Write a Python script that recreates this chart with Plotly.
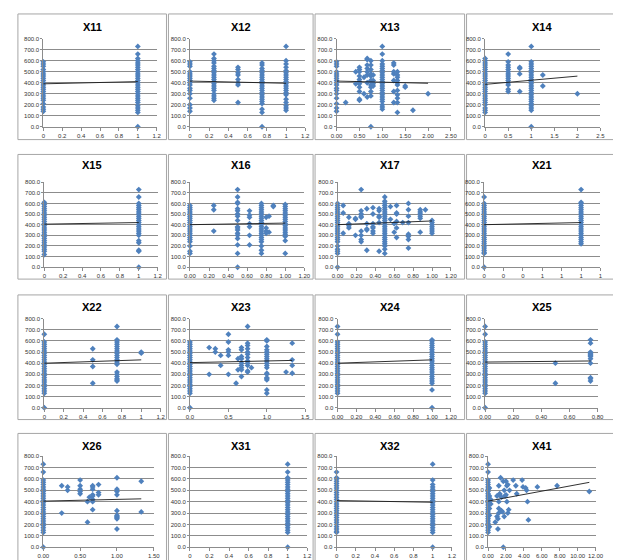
import plotly.graph_objects as go

W, H = 621, 560

# ---------------- data ----------------
Y_TICKS = [0, 100, 200, 300, 400, 500, 600, 700, 800]
Y_TICK_LABELS = ["0.0", "100.0", "200.0", "300.0", "400.0", "500.0", "600.0", "700.0", "800.0"]

TITLES = ["X11", "X12", "X13", "X14", "X15", "X16", "X17", "X21",
          "X22", "X23", "X24", "X25", "X26", "X31", "X32", "X41"]

X11_XS = [0, 1]
X11_YS = [[140, 160, 180, 210, 240, 260, 280, 300, 320, 340, 360, 380, 400, 420, 440, 460, 480, 500, 520, 550, 570, 590],
          [0, 130, 150, 170, 190, 220, 240, 260, 280, 300, 320, 340, 360, 380, 400, 420, 440, 460, 480, 500, 520, 540, 560, 580, 600, 620, 660, 730]]
X11_TREND = [390, 410]

X12_XS = [0, 0.25, 0.5, 0.75, 1]
X12_YS = [[140, 170, 200, 260, 300, 330, 350, 380, 400, 420, 440, 460, 480, 500, 550, 570, 590],
          [240, 260, 280, 300, 330, 350, 370, 390, 410, 430, 450, 470, 490, 510, 530, 550, 580, 600, 620, 660],
          [220, 380, 400, 430, 470, 490, 520, 540],
          [0, 130, 160, 210, 230, 250, 270, 290, 310, 330, 350, 370, 390, 410, 430, 450, 470, 490, 510, 530, 560, 580],
          [150, 170, 190, 220, 250, 290, 310, 330, 350, 370, 390, 410, 430, 450, 470, 490, 510, 540, 570, 600, 730]]
X12_TREND = [415, 395]

X13_XS = [0, 0.2, 0.42, 0.5, 0.6, 0.67, 0.75, 0.8, 1, 1.25, 1.33, 1.5, 1.67, 2]
X13_YS = [[140, 170, 210, 260, 300, 330, 350, 380, 400, 420, 440, 460, 480, 500, 550, 570, 590],
          [220],
          [390, 500],
          [240, 250, 320, 360, 390, 410, 430, 460, 500, 520, 540],
          [300, 450],
          [270, 400, 470, 500, 530, 560, 610, 620],
          [0, 280, 320, 360, 380, 420, 460, 480, 520, 560, 600],
          [370, 390, 420, 470],
          [160, 180, 200, 230, 250, 270, 290, 310, 330, 350, 370, 390, 410, 430, 450, 470, 490, 510, 530, 550, 570, 600, 660, 730],
          [220, 320, 420, 480, 500, 560, 580],
          [130, 220, 260, 290, 330, 380, 400, 420, 450, 470, 500],
          [360, 370],
          [150],
          [300]]
X13_TREND = [415, 395]

X14_XS = [0, 0.5, 0.75, 1, 1.25, 2]
X14_YS = [[130, 150, 170, 200, 220, 240, 260, 280, 300, 320, 340, 360, 380, 400, 420, 440, 460, 480, 500, 520, 540, 560, 580, 600, 620],
          [320, 340, 380, 400, 420, 440, 460, 480, 500, 520, 540, 560, 590, 660],
          [320, 480, 530, 540],
          [0, 150, 170, 190, 210, 230, 250, 270, 290, 310, 330, 350, 370, 390, 410, 430, 450, 470, 490, 510, 530, 550, 570, 590, 730],
          [370, 470],
          [300]]
X14_TREND = [385, 460]

X15_XS = [0, 1]
X15_YS = [[120, 150, 170, 190, 210, 230, 250, 270, 290, 310, 330, 350, 370, 390, 410, 430, 450, 470, 490, 510, 530, 550, 570, 590, 610],
          [0, 150, 160, 230, 250, 300, 320, 340, 360, 380, 400, 420, 440, 460, 480, 500, 520, 540, 560, 580, 600, 660, 730]]
X15_TREND = [405, 420]

X16_XS = [0, 0.25, 0.5, 0.625, 0.75, 0.8, 0.83, 0.875, 1]
X16_YS = [[130, 150, 200, 240, 260, 280, 300, 320, 340, 360, 380, 400, 420, 440, 460, 480, 500, 520, 540, 560, 580],
          [340, 540, 580],
          [0, 130, 210, 270, 300, 320, 350, 370, 380, 440, 480, 500, 530, 550, 600, 610, 660, 730],
          [210, 300, 380, 410, 470, 490, 530],
          [130, 160, 200, 240, 260, 280, 300, 320, 340, 360, 380, 400, 420, 440, 460, 480, 500, 520, 540, 560, 580, 600],
          [320, 340, 370, 470],
          [330, 480],
          [570, 580],
          [130, 250, 290, 310, 330, 350, 370, 390, 410, 430, 450, 470, 490, 510, 530, 550, 570, 590]]
X16_TREND = [400, 415]

X17_XS = [0, 0.06, 0.12, 0.19, 0.25, 0.31, 0.375, 0.44, 0.5, 0.56, 0.6, 0.625, 0.69, 0.75, 0.875, 0.93, 1]
X17_YS = [[0, 130, 150, 170, 200, 240, 260, 280, 300, 320, 340, 360, 380, 400, 420, 440, 460, 480, 500, 520, 540, 560, 580, 600],
          [320, 510, 580],
          [370, 390, 410, 470],
          [300, 450, 460],
          [240, 260, 300, 340, 470, 480, 500, 530, 730],
          [160, 350, 360, 410, 550],
          [320, 340, 370, 380, 410, 500, 560],
          [150, 420, 470, 480, 530, 550],
          [130, 170, 200, 220, 240, 260, 280, 300, 320, 340, 360, 380, 400, 420, 440, 460, 480, 500, 520, 540, 560, 580, 600, 620, 660],
          [450, 570],
          [330, 410],
          [280, 370, 430, 500, 510, 580],
          [420],
          [180, 260, 290, 310, 420, 480, 540, 600],
          [330, 460, 480, 500, 520, 540],
          [540],
          [320, 340, 360, 380, 400, 420, 440]]
X17_TREND = [400, 435]

X21_XS = [0, 1]
X21_YS = [[0, 130, 140, 160, 180, 200, 220, 240, 260, 280, 300, 320, 340, 360, 380, 400, 420, 440, 460, 480, 500, 520, 540, 560, 580, 600, 660],
          [220, 240, 260, 280, 300, 320, 340, 360, 380, 400, 420, 440, 460, 480, 500, 520, 540, 560, 580, 600, 610, 730]]
X21_TREND = [400, 420]

X22_XS = [0, 0.5, 0.75, 1]
X22_YS = [[0, 130, 150, 170, 190, 210, 230, 250, 270, 290, 310, 330, 350, 370, 390, 410, 430, 450, 470, 490, 510, 530, 550, 570, 590, 660],
          [220, 370, 430, 530],
          [240, 250, 260, 280, 300, 320, 390, 410, 430, 450, 470, 490, 510, 530, 550, 570, 590, 610, 730],
          [490, 500]]
X22_TREND = [400, 430]

X23_XS = [0, 0.25, 0.33, 0.4, 0.5, 0.6, 0.625, 0.67, 0.75, 0.8, 1, 1.25, 1.33]
X23_YS = [[0, 130, 150, 170, 190, 210, 230, 250, 270, 290, 310, 330, 350, 370, 390, 410, 430, 450, 470, 490, 510, 530, 550, 570, 590],
          [300, 540],
          [500, 530],
          [380, 470],
          [300, 470, 500, 520, 590, 660],
          [220],
          [340, 440],
          [280, 340, 360, 380, 400, 440, 460, 520, 540],
          [320, 330, 380, 400, 420, 450, 480, 500, 530, 560, 580, 730],
          [360],
          [130, 160, 250, 260, 270, 300, 310, 360, 380, 400, 420, 440, 460, 480, 500, 520, 550, 600, 610],
          [320],
          [310, 380, 430, 580]]
X23_TREND = [405, 425]

X24_XS = [0, 1]
X24_YS = [[130, 150, 170, 190, 210, 230, 250, 270, 290, 310, 330, 350, 370, 390, 410, 430, 450, 470, 490, 510, 530, 550, 570, 590, 660, 730],
          [0, 160, 220, 240, 260, 280, 300, 320, 340, 360, 380, 400, 420, 440, 460, 480, 500, 520, 540, 560, 580, 600, 610]]
X24_TREND = [400, 430]

X25_XS = [0, 0.5, 0.75]
X25_YS = [[0, 130, 150, 170, 190, 210, 230, 250, 270, 290, 310, 330, 350, 370, 390, 410, 430, 450, 470, 490, 510, 530, 550, 570, 590, 660, 730],
          [220, 400],
          [240, 260, 270, 400, 440, 460, 470, 480, 490, 500, 580, 610]]
X25_TREND = [410, 420]

X26_XS = [0, 0.25, 0.33, 0.5, 0.6, 0.625, 0.67, 0.75, 1, 1.33]
X26_YS = [[0, 130, 150, 170, 190, 210, 230, 250, 270, 290, 310, 330, 350, 370, 390, 410, 430, 450, 470, 490, 510, 530, 550, 570, 590, 660, 730],
          [300, 540],
          [500, 530],
          [470, 490, 510, 540, 590],
          [220, 400],
          [440],
          [330, 400, 420, 450, 460, 510, 530, 540],
          [460, 480, 550],
          [160, 250, 260, 270, 280, 320, 460, 490, 510, 610],
          [310, 580]]
X26_TREND = [405, 425]

X31_XS = [1]
X31_YS = [[0, 130, 150, 170, 190, 210, 230, 250, 270, 290, 310, 330, 350, 370, 390, 410, 430, 450, 470, 490, 510, 530, 550, 570, 590, 610, 660, 730]]
X31_TREND = None

X32_XS = [0, 1]
X32_YS = [[130, 140, 160, 180, 200, 220, 240, 260, 280, 300, 320, 340, 360, 380, 400, 420, 440, 460, 480, 500, 520, 540, 560, 580, 600, 610, 660],
          [0, 130, 150, 170, 190, 210, 230, 250, 270, 290, 310, 330, 350, 370, 390, 410, 430, 450, 470, 490, 510, 530, 550, 590, 730]]
X32_TREND = [410, 395]

X41_XS = [0, 0.15, 0.3]
X41_YS = [[130, 150, 170, 190, 210, 230, 250, 270, 290, 310, 330, 350, 370, 390, 410, 430, 450, 470, 490, 510, 530, 550, 570, 590, 660, 730],
          [180, 280, 340, 400, 450, 520],
          [380, 420]]
X41_EXTRA_X = [0.8, 1.0, 1.0, 1.1, 1.1, 1.2, 1.2, 1.2, 1.2, 1.3, 1.3, 1.4, 1.5, 1.5, 1.6, 1.7, 1.7, 1.8, 1.8, 1.9,
               2.0, 2.0, 2.1, 2.1, 2.2, 2.2, 2.3, 2.4, 2.8, 3.1, 3.2, 3.8, 3.9, 4.2, 4.3, 4.4, 4.5, 5.5, 7.7, 11.3]
X41_EXTRA_Y = [220, 450, 270, 160, 250, 300, 340, 400, 540, 460, 470, 610, 440, 320, 310, 580, 0, 270, 500, 450,
               580, 460, 400, 540, 550, 300, 330, 500, 590, 540, 470, 590, 530, 520, 500, 400, 240, 530, 540, 490]
X41_TREND = [405, 570]

TICK_01 = ["0", "0.2", "0.4", "0.6", "0.8", "1", "1.2"]
TICK_01_2DP = ["0.00", "0.20", "0.40", "0.60", "0.80", "1.00", "1.20"]
TICK_X13 = ["0.00", "0.50", "1.00", "1.50", "2.00", "2.50"]
TICK_X14 = ["0", "0.5", "1", "1.5", "2", "2.5"]
TICK_X21 = ["0", "0", "0", "1", "1", "1", "1"]
TICK_X23 = ["0.0", "0.5", "1.0", "1.5"]
TICK_X25 = ["0.00", "0.20", "0.40", "0.60", "0.80"]
TICK_X26 = ["0.00", "0.50", "1.00", "1.50"]
TICK_X41 = ["0.00", "2.00", "4.00", "6.00", "8.00", "10.00", "12.00"]

VALS_12 = [0, 0.2, 0.4, 0.6, 0.8, 1.0, 1.2]
VALS_25 = [0, 0.5, 1.0, 1.5, 2.0, 2.5]
VALS_15 = [0, 0.5, 1.0, 1.5]
VALS_08 = [0, 0.2, 0.4, 0.6, 0.8]
VALS_120 = [0, 2, 4, 6, 8, 10, 12]

PANEL_DATA = [
    (X11_XS, X11_YS, X11_TREND), (X12_XS, X12_YS, X12_TREND), (X13_XS, X13_YS, X13_TREND), (X14_XS, X14_YS, X14_TREND),
    (X15_XS, X15_YS, X15_TREND), (X16_XS, X16_YS, X16_TREND), (X17_XS, X17_YS, X17_TREND), (X21_XS, X21_YS, X21_TREND),
    (X22_XS, X22_YS, X22_TREND), (X23_XS, X23_YS, X23_TREND), (X24_XS, X24_YS, X24_TREND), (X25_XS, X25_YS, X25_TREND),
    (X26_XS, X26_YS, X26_TREND), (X31_XS, X31_YS, X31_TREND), (X32_XS, X32_YS, X32_TREND), (X41_XS, X41_YS, X41_TREND),
]
PANEL_TICKS = [
    (VALS_12, TICK_01), (VALS_12, TICK_01), (VALS_25, TICK_X13), (VALS_25, TICK_X14),
    (VALS_12, TICK_01), (VALS_12, TICK_01_2DP), (VALS_12, TICK_01_2DP), (VALS_12, TICK_X21),
    (VALS_12, TICK_01), (VALS_15, TICK_X23), (VALS_12, TICK_01_2DP), (VALS_08, TICK_X25),
    (VALS_15, TICK_X26), (VALS_12, TICK_01), (VALS_12, TICK_01), (VALS_120, TICK_X41),
]

# ---------------- layout geometry (pixels) ----------------
PLOT_X = [(30, 146), (180, 298), (330, 447), (482, 600),
          (31, 147), (180, 297), (331, 447), (481, 600),
          (31, 150), (180, 298), (331, 447), (482, 597),
          (30, 143), (180, 300), (330, 448), (485, 595)]
ROW_Y = [(28, 117), (173, 259), (311, 401), (450, 542)]
BOX_X = [(4, 156), (158, 306), (308, 461), (463, 617)]
BOX_Y = [(3, 130), (145, 271), (287, 413), (427, 556)]
TITLE_Y = [16, 156, 299, 440]

BLUE = "#4F81BD"
GRID = "#8C8C8C"
FONT = "Liberation Sans"


def fx(p):
    return p / W


def fy(p):
    return 1 - p / H


fig = go.Figure()
layout = {}
shapes = []
annotations = []

for i in range(16):
    r, c = divmod(i, 4)
    sfx = "" if i == 0 else str(i + 1)
    xs, ygroups, trend = PANEL_DATA[i]
    pxs, pys = [], []
    for xv, grp in zip(xs, ygroups):
        for yv in grp:
            pxs.append(xv)
            pys.append(yv)
    if TITLES[i] == "X41":
        pxs = pxs + X41_EXTRA_X
        pys = pys + X41_EXTRA_Y

    fig.add_trace(go.Scatter(
        x=pxs, y=pys, mode="markers",
        marker=dict(symbol="diamond", size=4.5, color=BLUE, line=dict(width=0)),
        xaxis="x" + sfx, yaxis="y" + sfx, cliponaxis=False,
        showlegend=False, hoverinfo="skip"))
    if trend is not None:
        fig.add_trace(go.Scatter(
            x=[min(pxs), max(pxs)], y=trend, mode="lines",
            line=dict(color="#1a1a1a", width=0.9),
            xaxis="x" + sfx, yaxis="y" + sfx, cliponaxis=False,
            showlegend=False, hoverinfo="skip"))

    x0, x1 = PLOT_X[i]
    y0, y1 = ROW_Y[r]
    tv, tt = PANEL_TICKS[i]
    layout["xaxis" + sfx] = dict(
        domain=[fx(x0), fx(x1)], range=[tv[0], tv[-1]], anchor="y" + sfx,
        tickvals=tv, ticktext=tt, showgrid=False, zeroline=False,
        showline=True, linecolor=GRID, linewidth=1,
        ticks="outside", ticklen=3, tickcolor=GRID, tickwidth=1,
        tickfont=dict(family=FONT, size=6, color="#333333"), fixedrange=True)
    layout["yaxis" + sfx] = dict(
        domain=[fy(y1), fy(y0)], range=[0, 800], anchor="x" + sfx,
        tickvals=Y_TICKS, ticktext=Y_TICK_LABELS, showgrid=True,
        gridcolor=GRID, gridwidth=1, zeroline=False,
        showline=True, linecolor=GRID, linewidth=1,
        ticks="outside", ticklen=2, tickcolor=GRID,
        tickfont=dict(family=FONT, size=6, color="#333333"), fixedrange=True)

    bx0, bx1 = BOX_X[c]
    by0, by1 = BOX_Y[r]
    shapes.append(dict(type="rect", xref="paper", yref="paper",
                       x0=fx(bx0), x1=fx(bx1), y0=fy(by1), y1=fy(by0),
                       line=dict(color="#A6A6A6", width=1), layer="below"))
    annotations.append(dict(text="<b>" + TITLES[i] + "</b>", xref="paper", yref="paper",
                            x=fx((bx0 + bx1) / 2), y=fy(TITLE_Y[r]),
                            xanchor="center", yanchor="middle", showarrow=False,
                            font=dict(family=FONT, size=11, color="#000000")))

fig.update_layout(
    width=W, height=H, margin=dict(l=0, r=0, t=0, b=0),
    paper_bgcolor="white", plot_bgcolor="white",
    shapes=shapes, annotations=annotations, **layout)

fig.write_html("out.html")
